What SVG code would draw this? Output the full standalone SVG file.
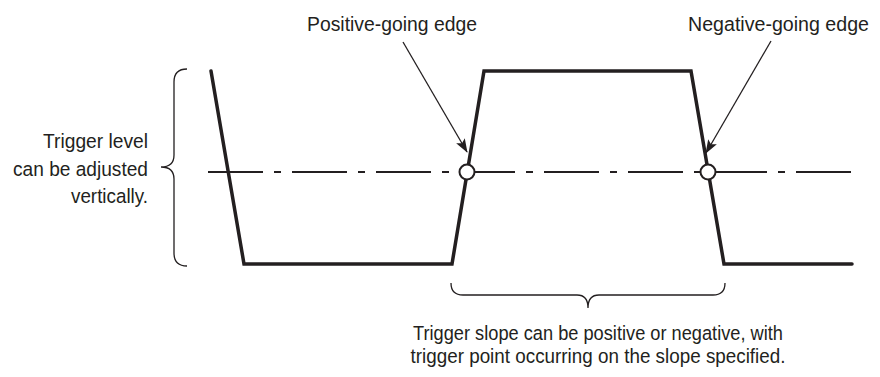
<svg xmlns="http://www.w3.org/2000/svg" width="880" height="377" viewBox="0 0 880 377">
<style>
text{font-family:"Liberation Sans",Arial,sans-serif;font-size:20.5px;fill:#231f20}
.wave{fill:none;stroke:#231f20;stroke-width:3.5;stroke-linejoin:miter;stroke-linecap:round}
.level{stroke:#231f20;stroke-width:2;stroke-dasharray:55 11 7 11}
.brace{fill:none;stroke:#231f20;stroke-width:1.3}
.arrow{stroke:#231f20;stroke-width:1.3;fill:none}
.pt{fill:#fff;stroke:#231f20;stroke-width:2}
</style>
<defs>
<marker id="ah" viewBox="0 0 14 10" refX="13" refY="5" markerWidth="14" markerHeight="10" markerUnits="userSpaceOnUse" orient="auto">
<path d="M0,0 L14,5 L0,10 L3,5 z" fill="#231f20"/>
</marker>
</defs>
<g id="trigger-level-line">
<line class="level" x1="208" y1="172" x2="851" y2="172"/>
</g>
<g id="waveform">
<path class="wave" d="M211,71 L244,264 L452,264 L484,71 L691,71 L724,264 L852,264"/>
</g>
<g id="connectors">
<line class="arrow" x1="403" y1="42" x2="467" y2="152" marker-end="url(#ah)"/>
<line class="arrow" x1="771" y1="41" x2="706" y2="153" marker-end="url(#ah)"/>
<path class="brace" d="M187,69 Q174,69 174,82 L174,155 Q174,167 161,167 Q174,167 174,179 L174,253 Q174,266 187,266"/>
<path class="brace" d="M451,283 Q451,295 463,295 L577,295 Q588,295 588,308 Q588,295 599,295 L713,295 Q725,295 725,283"/>
</g>
<g id="positive-point"><circle class="pt" cx="467" cy="172" r="7.5"/></g>
<g id="negative-point"><circle class="pt" cx="708" cy="172" r="7.5"/></g>
<g id="label-positive"><text x="307" y="31" textLength="170" lengthAdjust="spacingAndGlyphs">Positive-going edge</text></g>
<g id="label-negative"><text x="688" y="31" textLength="181" lengthAdjust="spacingAndGlyphs">Negative-going edge</text></g>
<g id="label-level" text-anchor="end">
<text x="148" y="148" textLength="105" lengthAdjust="spacingAndGlyphs">Trigger level</text>
<text x="148" y="176" textLength="135" lengthAdjust="spacingAndGlyphs">can be adjusted</text>
<text x="148" y="203" textLength="77" lengthAdjust="spacingAndGlyphs">vertically.</text>
</g>
<g id="label-slope" text-anchor="middle">
<text x="598" y="340" textLength="370" lengthAdjust="spacingAndGlyphs">Trigger slope can be positive or negative, with</text>
<text x="598" y="363" textLength="375" lengthAdjust="spacingAndGlyphs">trigger point occurring on the slope specified.</text>
</g>
</svg>
